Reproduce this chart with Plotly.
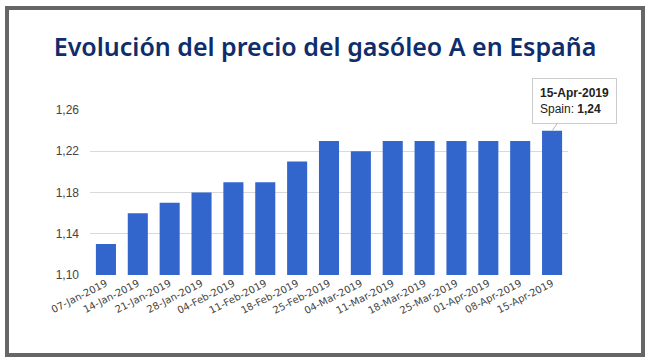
import plotly.graph_objects as go

dates = ["07-Jan-2019", "14-Jan-2019", "21-Jan-2019", "28-Jan-2019", "04-Feb-2019",
         "11-Feb-2019", "18-Feb-2019", "25-Feb-2019", "04-Mar-2019", "11-Mar-2019",
         "18-Mar-2019", "25-Mar-2019", "01-Apr-2019", "08-Apr-2019", "15-Apr-2019"]
prices = [1.13, 1.16, 1.17, 1.18, 1.19, 1.19, 1.21, 1.23, 1.22, 1.23,
          1.23, 1.23, 1.23, 1.23, 1.24]
y_ticks = [1.10, 1.14, 1.18, 1.22, 1.26]
series_name = "Spain"
title_text = "Evolución del precio del gasóleo A en España"

W, H = 650, 363
L, R, T, B = 90, 82, 110, 88
pw, ph = W - L - R, H - T - B

def px_x(p):
    return (p - L) / pw

def px_y(p):
    return (H - B - p) / ph

fig = go.Figure()
fig.add_trace(go.Bar(x=dates, y=prices, name=series_name,
                     marker=dict(color="#3366CC", line=dict(width=0))))

fig.update_layout(
    width=W, height=H,
    autosize=False,
    margin=dict(l=L, r=R, t=T, b=B, pad=0, autoexpand=False),
    paper_bgcolor="white", plot_bgcolor="white",
    separators=",.",
    bargap=0.37,
    showlegend=False,
    title=dict(text=title_text, x=0.5, xanchor="center", xref="container",
               y=1 - 47 / H, yanchor="middle", yref="container",
               font=dict(family="Noto Sans", size=25, color="#0f2d6b", weight=600)),
    xaxis=dict(range=[-0.5, len(dates) - 0.5], autorange=False,
               tickangle=-27, tickfont=dict(family="DejaVu Sans", size=10, color="#444444"),
               showgrid=False, showline=False, ticks="", automargin=False),
    yaxis=dict(range=[1.10, 1.26], autorange=False, tickvals=y_ticks, tickformat=".2f",
               tickfont=dict(family="Liberation Sans", size=12, color="#444444"),
               gridcolor="#d9d9d9", gridwidth=1, zeroline=False, showline=False,
               ticklabelstandoff=10, automargin=False),
    shapes=[dict(type="rect", xref="paper", yref="paper",
                 x0=px_x(7), x1=px_x(643), y0=px_y(355), y1=px_y(8),
                 line=dict(color="#666666", width=4), layer="above")],
)

fig.add_annotation(
    x=dates[-1], y=prices[-1],
    text="<b>" + dates[-1] + "</b><br>" + series_name + ": <b>" + f"{prices[-1]:.2f}".replace(".", ",") + "</b>",
    showarrow=True, arrowhead=0, arrowcolor="#bbbbbb", arrowwidth=1,
    ax=22, ay=-30, align="left",
    bgcolor="white", bordercolor="#cccccc", borderwidth=1, borderpad=7,
    font=dict(family="Liberation Sans", size=12, color="#222222"),
)

fig.write_html("out.html", config={"displayModeBar": False},
               post_script="document.body.style.margin='0';document.body.style.overflow='hidden';")
